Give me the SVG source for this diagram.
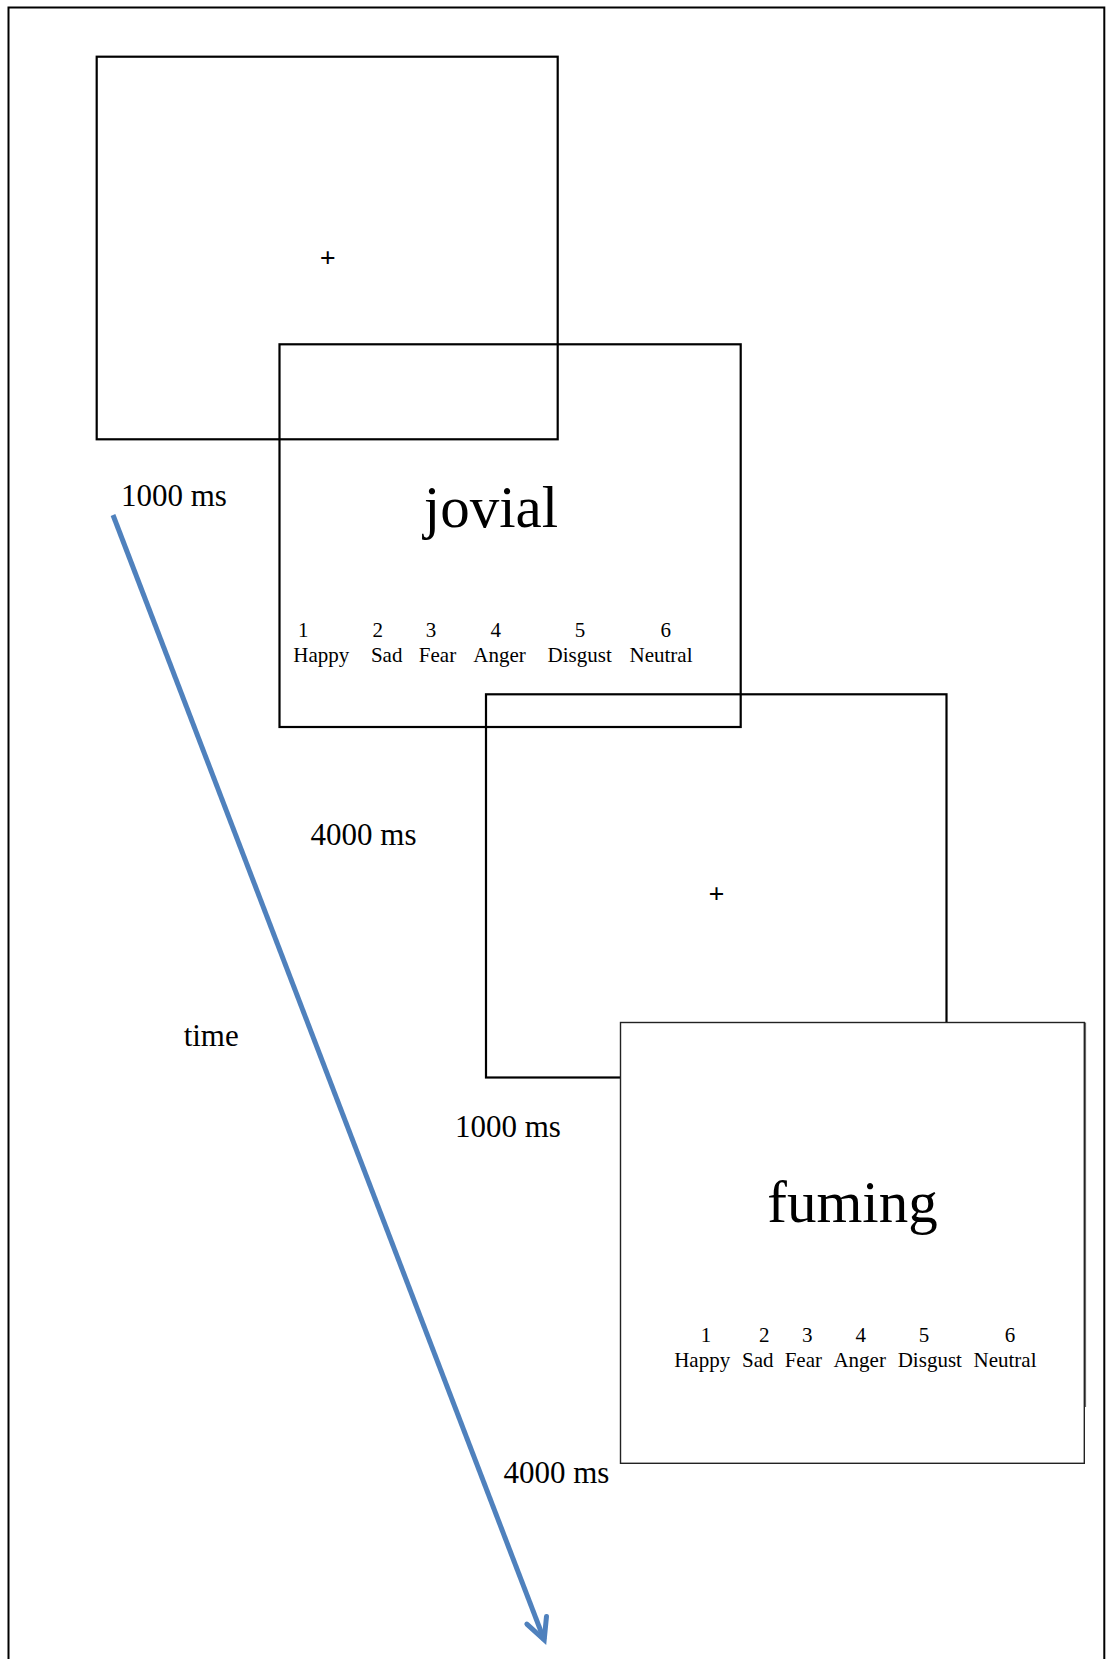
<svg xmlns="http://www.w3.org/2000/svg" width="1107" height="1659" viewBox="0 0 1107 1659">
<style>
.frame{fill:none;stroke:#000;stroke-width:2}
.screen{fill:none;stroke:#000;stroke-width:2.2}
.screen4{fill:#fff;stroke:#222;stroke-width:1.4}
.lbl{font-family:"Liberation Serif","Times New Roman",serif;font-size:31px;fill:#000;text-anchor:middle}
.word{font-family:"Liberation Serif","Times New Roman",serif;font-size:59px;fill:#000;text-anchor:middle}
.opt{font-family:"Liberation Serif","Times New Roman",serif;font-size:21px;fill:#000;text-anchor:middle}
.fix{font-family:"Liberation Serif","Times New Roman",serif;font-size:28px;font-weight:bold;fill:#000;text-anchor:middle}
.arrow{fill:none;stroke:#4F81BD;stroke-width:5}
</style>
<defs>
<marker id="openhead" markerUnits="userSpaceOnUse" viewBox="-30 -20 40 40" markerWidth="40" markerHeight="40" refX="0" refY="0" orient="auto" overflow="visible">
<path d="M -21 -10.5 L 0 0 L -21 10.5" fill="none" stroke="#4F81BD" stroke-width="5" stroke-linecap="round" stroke-linejoin="miter"/>
</marker>
</defs>
<rect width="1107" height="1659" fill="#fff"/>
<path class="frame" d="M 8.5 1670 L 8.5 7.5 L 1104.3 7.5 L 1104.3 1670"/>
<g id="screen1">
<rect class="screen" x="96.7" y="56.7" width="461" height="382.6"/>
<text class="fix" x="327.7" y="267">+</text>
</g>
<g id="screen2">
<rect class="screen" x="279.5" y="344.3" width="461.2" height="382.7"/>
<text class="word" x="491" y="527">jovial</text>
<text class="opt" x="303.3" y="637.3">1</text>
<text class="opt" x="377.7" y="637.3">2</text>
<text class="opt" x="431" y="637.3">3</text>
<text class="opt" x="495.7" y="637.3">4</text>
<text class="opt" x="580" y="637.3">5</text>
<text class="opt" x="665.7" y="637.3">6</text>
<text class="opt" x="321.3" y="661.7">Happy</text>
<text class="opt" x="386.7" y="661.7">Sad</text>
<text class="opt" x="437.5" y="661.7">Fear</text>
<text class="opt" x="499.5" y="661.7">Anger</text>
<text class="opt" x="579.7" y="661.7">Disgust</text>
<text class="opt" x="661" y="661.7">Neutral</text>
</g>
<g id="screen3">
<rect class="screen" x="486" y="694.3" width="460.5" height="383.2"/>
<text class="fix" x="716.5" y="902.8">+</text>
</g>
<g id="screen4">
<rect class="screen4" x="620.5" y="1022.5" width="463.8" height="440.8"/>
<line x1="1085.6" y1="1022.5" x2="1085.6" y2="1407" stroke="#555" stroke-width="1"/>
<text class="word" x="852.5" y="1222">fuming</text>
<text class="opt" x="706" y="1341.7">1</text>
<text class="opt" x="764.3" y="1341.7">2</text>
<text class="opt" x="807.3" y="1341.7">3</text>
<text class="opt" x="860.7" y="1341.7">4</text>
<text class="opt" x="924" y="1341.7">5</text>
<text class="opt" x="1010" y="1341.7">6</text>
<text class="opt" x="702.2" y="1366.7">Happy</text>
<text class="opt" x="757.8" y="1366.7">Sad</text>
<text class="opt" x="803.3" y="1366.7">Fear</text>
<text class="opt" x="859.7" y="1366.7">Anger</text>
<text class="opt" x="929.8" y="1366.7">Disgust</text>
<text class="opt" x="1005" y="1366.7">Neutral</text>
</g>
<g id="labels">
<text class="lbl" x="173.9" y="506">1000 ms</text>
<text class="lbl" x="363.5" y="845">4000 ms</text>
<text class="lbl" x="211.2" y="1045.7">time</text>
<text class="lbl" x="507.9" y="1136.7">1000 ms</text>
<text class="lbl" x="556.4" y="1482.7">4000 ms</text>
</g>
<g id="connectors">
<path class="arrow" d="M 113 515 L 544.2 1639.9" marker-end="url(#openhead)"/>
</g>
</svg>
